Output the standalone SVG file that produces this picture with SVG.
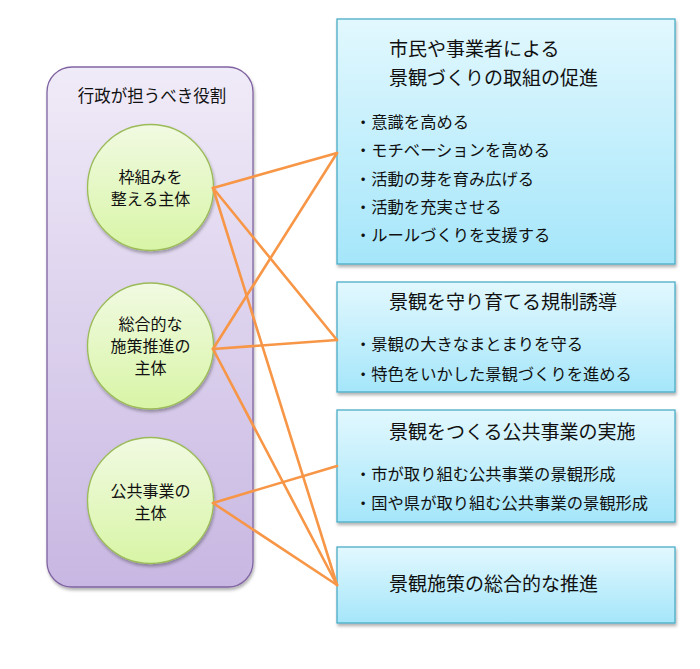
<svg xmlns="http://www.w3.org/2000/svg" width="700" height="669" viewBox="0 0 700 669">
<style>
text{font-family:"Noto Sans CJK JP","Noto Sans CJK SC",sans-serif;fill:#111;}
.ct{font-size:16px;text-anchor:middle;}
.ttl{font-size:16.5px;text-anchor:middle;}
.bt{font-size:19px;}
.bl{font-size:16.3px;}
.circ{fill:url(#gG);stroke:#9bbb59;stroke-width:1.3;filter:url(#sh);}
.rbox{fill:url(#gB);stroke:#4bacc6;stroke-width:1.3;filter:url(#sh);}
.conn{stroke:#f79646;stroke-width:2.6;fill:none;stroke-linecap:round;}
</style>
<defs>
<linearGradient id="gP" x1="0" y1="0" x2="0" y2="1">
<stop offset="0" stop-color="#f0ebf8"/>
<stop offset="1" stop-color="#c8b7e2"/>
</linearGradient>
<linearGradient id="gG" x1="0" y1="0" x2="0" y2="1">
<stop offset="0" stop-color="#f1fae2"/>
<stop offset="1" stop-color="#d8f5a6"/>
</linearGradient>
<linearGradient id="gB" x1="0" y1="0" x2="0" y2="1">
<stop offset="0" stop-color="#e2f8fe"/>
<stop offset="1" stop-color="#a5e6fa"/>
</linearGradient>
<filter id="sh" x="-10%" y="-10%" width="120%" height="125%">
<feDropShadow dx="1" dy="2.5" stdDeviation="1.8" flood-color="#000" flood-opacity="0.3"/>
</filter>
</defs>
<g id="role-panel">
<rect x="47" y="67" width="206" height="520" rx="25" ry="25" fill="url(#gP)" stroke="#8064a2" stroke-width="1.3" filter="url(#sh)"/>
<text class="ttl" x="152" y="102">行政が担うべき役割</text>
</g>
<g id="c1">
<circle class="circ" cx="150.5" cy="187.5" r="63"/>
<text class="ct" x="150.5" y="183">枠組みを</text>
<text class="ct" x="150.5" y="205">整える主体</text>
</g>
<g id="c2">
<circle class="circ" cx="150.5" cy="346" r="63"/>
<text class="ct" x="150.5" y="330">総合的な</text>
<text class="ct" x="150.5" y="352">施策推進の</text>
<text class="ct" x="150.5" y="374">主体</text>
</g>
<g id="c3">
<circle class="circ" cx="150.5" cy="500.5" r="63"/>
<text class="ct" x="150.5" y="497">公共事業の</text>
<text class="ct" x="150.5" y="519">主体</text>
</g>
<g id="b1">
<rect class="rbox" x="337" y="19" width="338" height="245"/>
<text class="bt" x="389" y="56">市民や事業者による</text>
<text class="bt" x="389" y="85">景観づくりの取組の促進</text>
<text class="bl" x="355" y="128">・意識を高める</text>
<text class="bl" x="355" y="156">・モチベーションを高める</text>
<text class="bl" x="355" y="185">・活動の芽を育み広げる</text>
<text class="bl" x="355" y="213">・活動を充実させる</text>
<text class="bl" x="355" y="241">・ルールづくりを支援する</text>
</g>
<g id="b2">
<rect class="rbox" x="337" y="282" width="338" height="110"/>
<text class="bt" x="389" y="309">景観を守り育てる規制誘導</text>
<text class="bl" x="355" y="350">・景観の大きなまとまりを守る</text>
<text class="bl" x="355" y="380">・特色をいかした景観づくりを進める</text>
</g>
<g id="b3">
<rect class="rbox" x="337" y="410" width="338" height="112"/>
<text class="bt" x="389" y="439">景観をつくる公共事業の実施</text>
<text class="bl" x="355" y="480">・市が取り組む公共事業の景観形成</text>
<text class="bl" x="355" y="509">・国や県が取り組む公共事業の景観形成</text>
</g>
<g id="b4">
<rect class="rbox" x="337" y="547" width="338" height="76"/>
<text class="bt" x="389" y="591">景観施策の総合的な推進</text>
</g>
<g id="connectors">
<line class="conn" x1="213" y1="188" x2="337" y2="153"/>
<line class="conn" x1="213" y1="188" x2="337" y2="340"/>
<line class="conn" x1="213" y1="188" x2="337" y2="585"/>
<line class="conn" x1="213" y1="349" x2="337" y2="153"/>
<line class="conn" x1="213" y1="349" x2="337" y2="340"/>
<line class="conn" x1="213" y1="349" x2="337" y2="585"/>
<line class="conn" x1="213" y1="503" x2="337" y2="466"/>
<line class="conn" x1="213" y1="503" x2="337" y2="585"/>
</g>
</svg>
